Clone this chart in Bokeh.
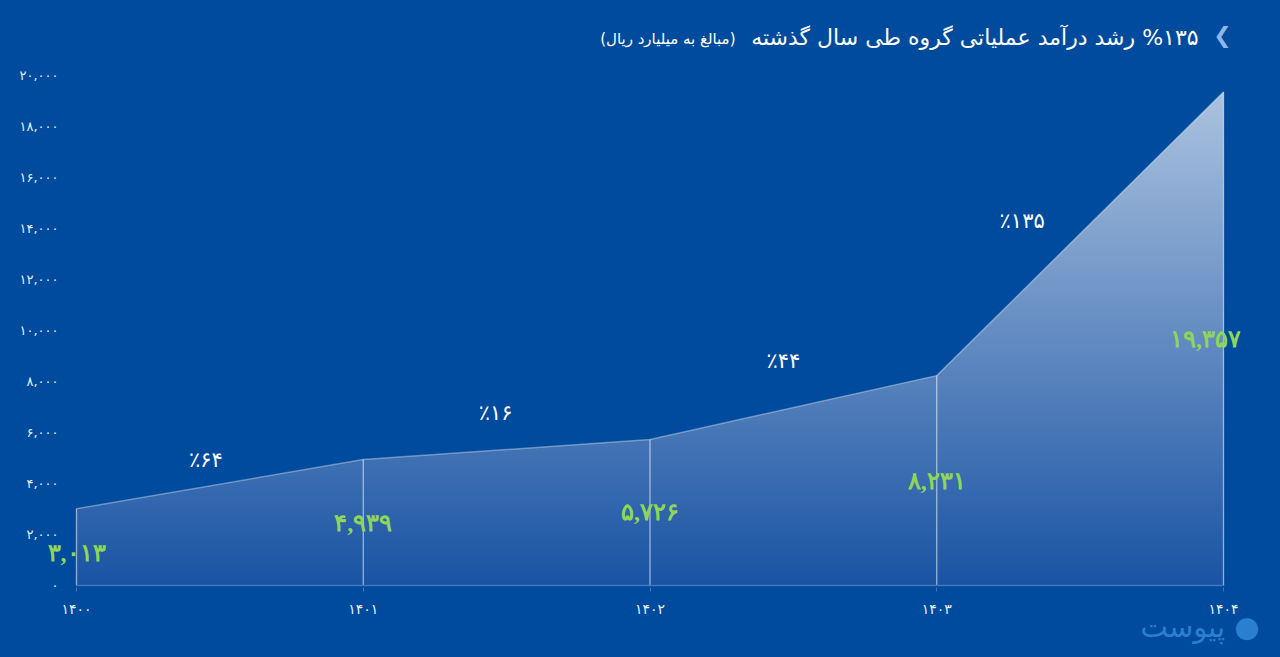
import numpy as np
from bokeh.plotting import figure
from bokeh.models import Range1d, FixedTicker, Label, LabelSet, ColumnDataSource, Title
from bokeh.core.properties import value
from bokeh.embed import file_html
from bokeh.resources import INLINE

# ---------------- data ----------------
years = [1400, 1401, 1402, 1403, 1404]
year_labels = ["۱۴۰۰", "۱۴۰۱", "۱۴۰۲", "۱۴۰۳", "۱۴۰۴"]
revenue = [3013, 4939, 5726, 8231, 19357]
revenue_labels = ["۳,۰۱۳", "۴,۹۳۹", "۵,۷۲۶", "۸,۲۳۱", "۱۹,۳۵۷"]
growth_labels = ["٪۶۴", "٪۱۶", "٪۴۴", "٪۱۳۵"]
y_ticks = [0, 2000, 4000, 6000, 8000, 10000, 12000, 14000, 16000, 18000, 20000]
y_tick_labels = ["۰", "۲,۰۰۰", "۴,۰۰۰", "۶,۰۰۰", "۸,۰۰۰", "۱۰,۰۰۰",
                 "۱۲,۰۰۰", "۱۴,۰۰۰", "۱۶,۰۰۰", "۱۸,۰۰۰", "۲۰,۰۰۰"]
title_text = "\u202B%۱۳۵ رشد درآمد عملیاتی گروه طی سال گذشته\u202C"
subtitle_text = "\u202B(مبالغ به میلیارد ریال)\u202C"
logo_text = "پیوست ●"

# ---------------- styles / layout ----------------
BG = "#004B9D"
GREEN = "#8ED65A"
BASE = "#3F76BE"
FONT = value("DejaVu Sans")
W, H = 1280, 657
frame_left, frame_right, frame_top, frame_bottom = 40, 1240, 0, 587  # canvas px
ylabel_right = 58
px_per_year = 286.75
px_per_unit = 0.0255
base_px = 585  # canvas px of y=0

x_start = years[0] - (76 - frame_left) / px_per_year
x_end = x_start + (frame_right - frame_left) / px_per_year
y_start = -(frame_bottom - base_px) / px_per_unit
y_end = y_start + (frame_bottom - frame_top) / px_per_unit

p = figure(width=W, height=H, output_backend="svg", toolbar_location=None,
           x_range=Range1d(x_start, x_end), y_range=Range1d(y_start, y_end),
           min_border_left=frame_left, min_border_right=W - frame_right,
           min_border_top=frame_top, min_border_bottom=H - frame_bottom)
p.background_fill_color = BG
p.border_fill_color = BG
p.outline_line_color = None
p.grid.visible = False

# gradient fill under the curve (image masked above the curve)
n = 256
t = np.linspace(0.0, 1.0, n)[:, None]
top_c = np.array([172, 195, 224])
bot_c = np.array([26, 84, 164])
cols = (bot_c + (top_c - bot_c) * t).astype(np.uint8)
img = np.zeros((n, 2), dtype=np.uint32)
view = img.view(dtype=np.uint8).reshape((n, 2, 4))
view[:, :, 0] = cols[:, 0:1]
view[:, :, 1] = cols[:, 1:2]
view[:, :, 2] = cols[:, 2:3]
view[:, :, 3] = 255
p.image_rgba(image=[img], x=years[0], y=0, dw=years[-1] - years[0], dh=max(revenue))
p.patch(x=[x_start] + years + [x_end, x_end, x_start],
        y=[revenue[0]] + revenue + [revenue[-1], y_end, y_end],
        fill_color=BG, line_color=None)

# curve edge and drop lines
p.line(years, revenue, line_color="white", line_alpha=0.35, line_width=1.5)
p.segment(x0=years, y0=[0] * len(years), x1=years, y1=revenue,
          line_color="white", line_alpha=0.55, line_width=1.3)
p.line([years[0], years[-1]], [0, 0], line_color=BASE, line_width=1.5)

# value labels (green, at half height)
val_src = ColumnDataSource(dict(
    x=years, y=[v / 2 for v in revenue], text=revenue_labels,
    xo=[0, 0, 0, 0, -18], yo=[-6, 0, 0, 0, 0]))
p.add_layout(LabelSet(x="x", y="y", text="text", x_offset="xo", y_offset="yo",
                      source=val_src, text_color=GREEN, text_font="DejaVu Sans",
                      text_font_size="24px", text_font_style="bold",
                      text_align="center", text_baseline="middle"))

# growth labels
mid_x = [(a + b) / 2 for a, b in zip(years[:-1], years[1:])]
mid_y = [(a + b) / 2 for a, b in zip(revenue[:-1], revenue[1:])]
g_xoff = [-14, -11, -10, -58]
g_yoff = [-24, -37, -47, -13]
p.text(x=mid_x, y=mid_y, text=growth_labels, x_offset=g_xoff, y_offset=g_yoff,
       text_color="white", text_font=FONT, text_font_size="21px",
       text_align="center", text_baseline="middle")

# axes
xa = p.xaxis[0]
xa.ticker = FixedTicker(ticks=years)
xa.major_label_overrides = {y: l for y, l in zip(years, year_labels)}
xa.axis_line_color = None
xa.major_tick_line_color = BASE
xa.major_tick_out = 4
xa.major_tick_in = 0
xa.minor_tick_line_color = None
xa.major_label_standoff = 9
xa.major_label_text_color = "#E8EEF7"
xa.major_label_text_font = "DejaVu Sans"
xa.major_label_text_font_size = "14px"

ya = p.yaxis[0]
ya.ticker = FixedTicker(ticks=y_ticks)
ya.major_label_overrides = {y: l for y, l in zip(y_ticks, y_tick_labels)}
ya.axis_line_color = None
ya.major_tick_line_color = None
ya.major_tick_out = 0
ya.major_tick_in = 0
ya.minor_tick_line_color = None
ya.major_label_standoff = frame_left - ylabel_right
ya.major_label_text_color = "#E8EEF7"
ya.major_label_text_font = "DejaVu Sans"
ya.major_label_text_font_size = "13px"

# title, subtitle, chevron (screen units relative to frame)
fh = frame_bottom - frame_top
p.add_layout(Label(x=1198 - frame_left, y=fh - 37, x_units="screen", y_units="screen",
                   text=title_text, text_color="white", text_font="DejaVu Sans",
                   text_font_size="22px", text_align="right", text_baseline="middle"))
p.add_layout(Label(x=735 - frame_left, y=fh - 38, x_units="screen", y_units="screen",
                   text=subtitle_text, text_color="white", text_font="DejaVu Sans",
                   text_font_size="15px", text_align="right", text_baseline="middle"))
p.add_layout(Label(x=1222 - frame_left, y=fh - 35, x_units="screen", y_units="screen",
                   text="❮", text_color="#8FB6EC", text_font="DejaVu Sans",
                   text_font_size="22px", text_align="center", text_baseline="middle"))

# logo below the axis
p.add_layout(Title(text=logo_text, align="right", offset=-19, text_color="#2A7FD0",
                   text_font="DejaVu Sans", text_font_size="29px",
                   text_font_style="normal", standoff=-24), "below")

html = file_html(p, INLINE)
html = html.replace("<head>", "<head><style>html,body{background:%s;}</style>" % BG, 1)
open("out.html", "w").write(html)
